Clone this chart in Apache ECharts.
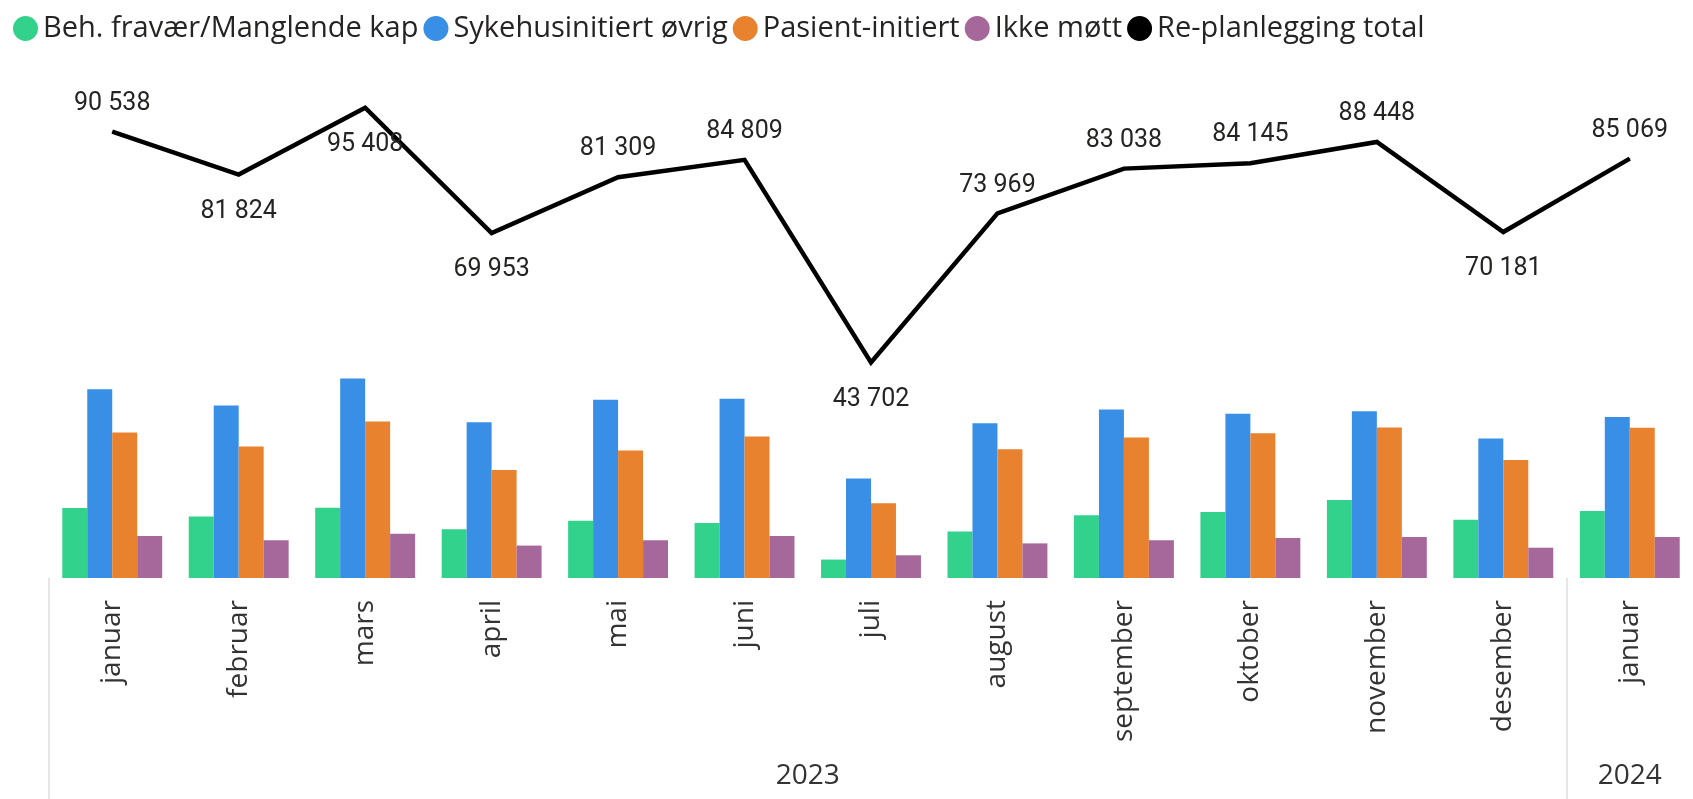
<!DOCTYPE html>
<html>
<head>
<meta charset="utf-8">
<script src="https://cdn.jsdelivr.net/npm/echarts@6/dist/echarts.min.js"></script>
<style>
  html, body { margin: 0; padding: 0; background: #fff; }
  #chart { width: 1693px; height: 799px; }
</style>
</head>
<body>
<div id="chart"></div>
<script>
// months shown on the axis
var months = ['januar', 'februar', 'mars', 'april', 'mai', 'juni', 'juli',
    'august', 'september', 'oktober', 'november', 'desember', 'januar'];
var years = ['2023', '2024'];
var monthsPerYear = [12, 1];

var seriesNames = ['Beh. fravær/Manglende kap', 'Sykehusinitiert øvrig',
    'Pasient-initiert', 'Ikke møtt', 'Re-planlegging total'];

var behFravaer = [14200, 12470, 14225, 9870, 11620, 11180, 3740, 9440, 12710, 13370, 15800, 11840, 13590];
var sykehusInit = [38280, 35000, 40485, 31580, 36160, 36380, 20200, 31390, 34180, 33300, 33800, 28290, 32670];
var pasientInit = [29530, 26694, 31727, 21930, 25860, 28710, 15150, 26120, 28480, 29360, 30510, 23910, 30480];
var ikkeMott = [8528, 7660, 8971, 6573, 7669, 8539, 4612, 7019, 7668, 8115, 8338, 6141, 8329];
var total = [90538, 81824, 95408, 69953, 81309, 84809, 43702, 73969, 83038, 84145, 88448, 70181, 85069];

var colors = ['#32D28C', '#388FE5', '#E8822F', '#A6689A', '#000000'];

// which total labels sit under the line
var labelBelow = [1, 2, 3, 6, 11];

var chart = echarts.init(document.getElementById('chart'));

// year band centres and separators on a 0..n value scale
var yearCentres = [], yearEdges = [0], acc = 0;
for (var i = 0; i < years.length; i++) {
    yearCentres.push(acc + monthsPerYear[i] / 2);
    acc += monthsPerYear[i];
    if (i < years.length - 1) yearEdges.push(acc);
}

var totalData = total.map(function (v, i) {
    var below = labelBelow.indexOf(i) >= 0;
    return {
        value: v,
        label: { position: below ? 'bottom' : 'top', distance: below ? 24 : 15 }
    };
});

var barSeries = [behFravaer, sykehusInit, pasientInit, ikkeMott].map(function (d, i) {
    return {
        name: seriesNames[i],
        type: 'bar',
        data: d,
        barGap: '0%',
        barCategoryGap: '21%',
        itemStyle: { color: colors[i] }
    };
});

var axisFont = { fontFamily: 'Open Sans', fontSize: 28, color: '#333333' };

chart.setOption({
    animation: false,
    color: colors,
    legend: {
        left: 8,
        top: 9,
        icon: 'circle',
        itemWidth: 25,
        itemHeight: 25,
        itemGap: 5,
        textStyle: { fontFamily: 'Open Sans', fontSize: 29, color: '#252423' },
        data: seriesNames
    },
    grid: { left: 49, right: -15, top: 85, bottom: 221 },
    xAxis: [{
        type: 'category',
        data: months,
        axisLine: { show: false },
        axisTick: { show: false },
        axisLabel: Object.assign({ rotate: 90, margin: 22 }, axisFont)
    }, {
        type: 'value',
        min: 0,
        max: months.length,
        position: 'bottom',
        axisLine: { show: false },
        splitLine: { show: false },
        axisTick: {
            show: true,
            customValues: yearEdges,
            length: 222,
            lineStyle: { color: '#e6e6e6', width: 2 }
        },
        axisLabel: Object.assign({
            customValues: yearCentres,
            margin: 184,
            formatter: function (v) {
                var k = yearCentres.indexOf(v);
                return k >= 0 ? years[k] : '';
            }
        }, axisFont)
    }],
    yAxis: {
        type: 'value',
        min: 0,
        max: 100000,
        show: false,
        splitLine: { show: false }
    },
    series: barSeries.concat([{
        name: seriesNames[4],
        type: 'line',
        data: totalData,
        showSymbol: true,
        symbol: 'circle',
        symbolSize: 1,
        z: 5,
        lineStyle: { color: '#000', width: 4.5, join: 'miter' },
        itemStyle: { color: '#000' },
        label: {
            show: true,
            fontFamily: 'Roboto',
            fontSize: 25,
            color: '#252423',
            formatter: function (p) {
                return String(p.value).replace(/\B(?=(\d{3})+(?!\d))/g, ' ');
            }
        }
    }])
});
</script>
</body>
</html>
